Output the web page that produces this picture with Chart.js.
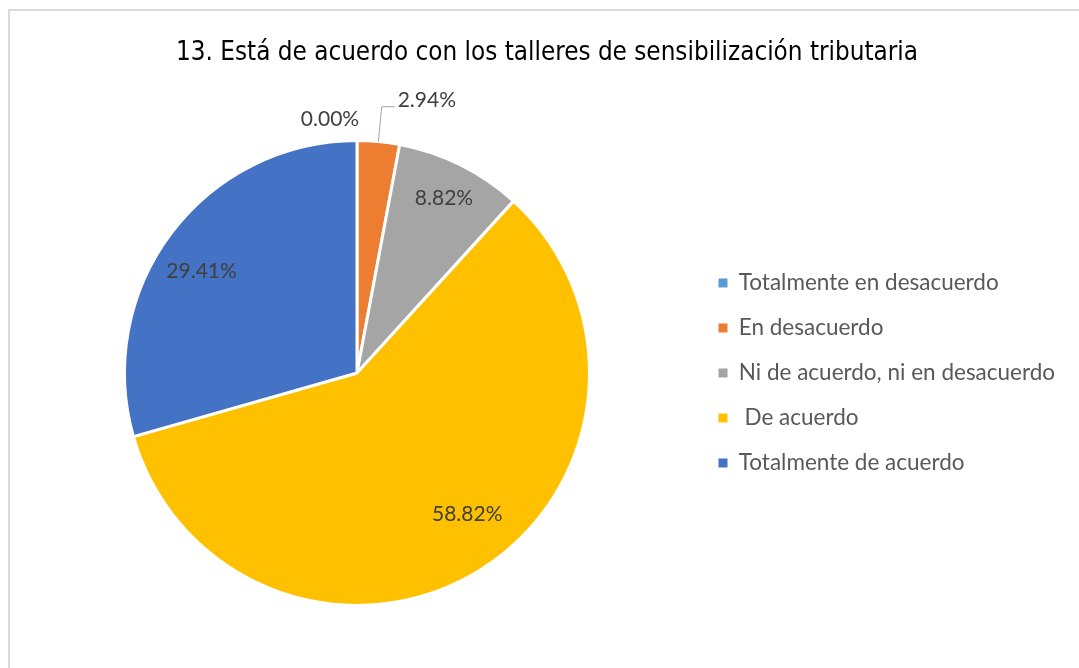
<!DOCTYPE html>
<html>
<head>
<meta charset="utf-8">
<script src="https://cdn.jsdelivr.net/npm/chart.js@4.4.1/dist/chart.umd.min.js"></script>
<style>
  body { margin: 0; background: #fff; overflow: hidden; }
  #box { position: absolute; left: 8px; top: 9px; border: 2px solid #d9d9d9; }
  canvas { display: block; }
</style>
</head>
<body>
<div id="box"><canvas id="chartTalleres" width="1074" height="660"></canvas></div>
<script>
  var categories = ['Totalmente en desacuerdo', 'En desacuerdo', 'Ni de acuerdo, ni en desacuerdo', ' De acuerdo', 'Totalmente de acuerdo'];
  var percentages = [0.00, 2.94, 8.82, 58.82, 29.41];
  var chartTitle = '13. Está de acuerdo con los talleres de sensibilización tributaria';

  // etiquetas de porcentaje sobre cada sector
  var sliceLabels = {
    id: 'sliceLabels',
    afterDatasetsDraw: function (chart, args, opts) {
      var ctx = chart.ctx;
      var meta = chart.getDatasetMeta(0);
      ctx.save();
      ctx.font = opts.font;
      ctx.fillStyle = opts.color;
      ctx.textBaseline = 'middle';
      meta.data.forEach(function (arc, i) {
        var p = arc.getProps(['x', 'y', 'startAngle', 'endAngle', 'outerRadius'], true);
        var mid = (p.startAngle + p.endAngle) / 2;
        var place = opts.placement[i];
        var r = p.outerRadius * place.f;
        var x = p.x + Math.cos(mid) * r + (place.dx || 0);
        var y = p.y + Math.sin(mid) * r + (place.dy || 0);
        var text = percentages[i].toFixed(2) + '%';
        if (place.leader) {
          var sx = p.x + Math.cos(mid) * p.outerRadius;
          var sy = p.y + Math.sin(mid) * p.outerRadius;
          ctx.strokeStyle = '#a6a6a6';
          ctx.lineWidth = 1;
          ctx.beginPath();
          ctx.moveTo(sx, sy);
          ctx.lineTo(x, y);
          ctx.lineTo(x + 13, y);
          ctx.stroke();
          ctx.textAlign = 'left';
          ctx.fillText(text, x + 16, y - 7);
        } else {
          ctx.textAlign = 'center';
          ctx.fillText(text, x, y);
        }
      });
      ctx.restore();
    }
  };

  // leyenda con ancho fijo y separada del pastel
  var legendPlacement = {
    id: 'legendPlacement',
    beforeLayout: function (chart, args, opts) {
      var lg = chart.legend;
      if (lg && !lg._fitWrapped) {
        var fit = lg.fit;
        lg.fit = function () { fit.call(this); this.width = opts.width; };
        lg._fitWrapped = true;
      }
    },
    afterLayout: function (chart, args, opts) {
      chart.legend.left += opts.inset;
      chart.legend.right += opts.inset;
    }
  };

  var ctx = document.getElementById('chartTalleres');
  new Chart(ctx, {
    type: 'pie',
    data: {
      labels: categories,
      datasets: [{
        data: percentages,
        backgroundColor: ['#5b9bd5', '#ed7d31', '#a5a5a5', '#ffc000', '#4472c4'],
        borderColor: '#ffffff',
        borderWidth: 3
      }]
    },
    plugins: [sliceLabels, legendPlacement],
    options: {
      responsive: false,
      animation: false,
      layout: { padding: { left: 113, right: 113, top: 0, bottom: 64 } },
      plugins: {
        title: {
          display: true,
          text: chartTitle,
          color: '#000000',
          font: { family: '"Liberation Sans Narrow", "DejaVu Sans Condensed", sans-serif', size: 25.8, weight: 'normal', lineHeight: 1.2 },
          padding: { top: 27, bottom: 70 }
        },
        legend: {
          display: true,
          position: 'right',
          align: 'center',
          fullSize: false,
          labels: {
            boxWidth: 9,
            boxHeight: 9,
            padding: 22.5,
            color: '#595959',
            font: { family: 'Lato', size: 22.5 },
            generateLabels: function (chart) {
              return Chart.overrides.doughnut.plugins.legend.labels.generateLabels(chart).map(function (l) {
                l.lineWidth = 0;
                return l;
              });
            }
          }
        },
        tooltip: { enabled: false },
        legendPlacement: { width: 380, inset: 105 },
        sliceLabels: {
          font: '21px Lato',
          color: '#404040',
          placement: [
            { f: 1.09, dx: -27, dy: 0 },
            { f: 1.15, leader: true },
            { f: 0.84 },
            { f: 0.77, dx: 16, dy: -11 },
            { f: 0.80, dx: -7, dy: 10 }
          ]
        }
      }
    }
  });
</script>
</body>
</html>
